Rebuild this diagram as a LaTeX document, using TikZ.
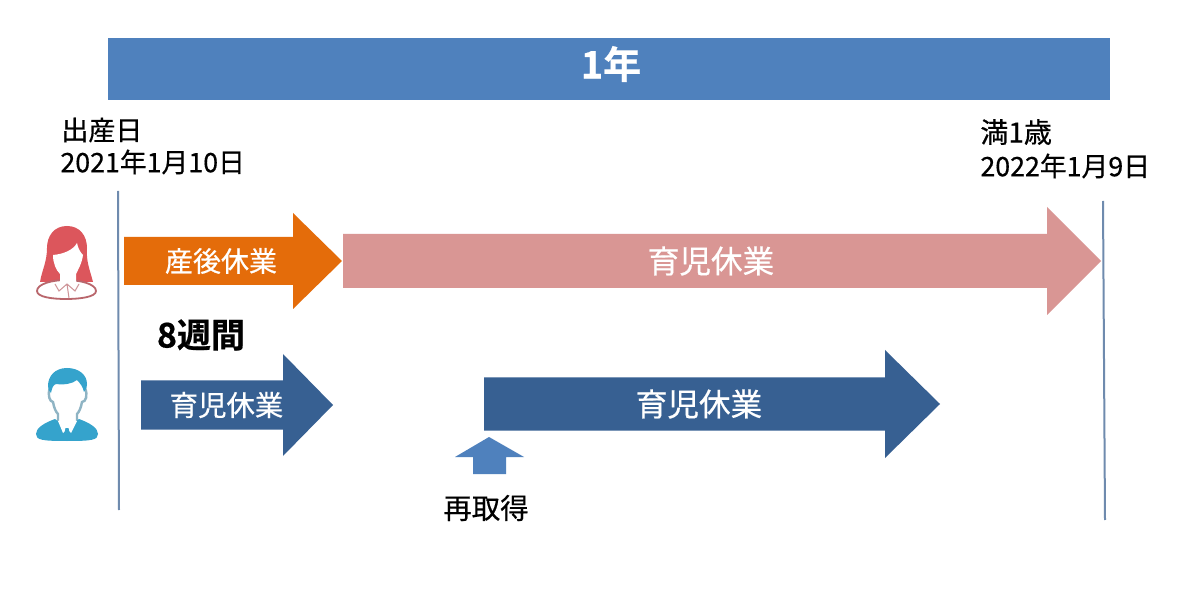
\documentclass[tikz,border=0pt]{standalone}
\usepackage{fontspec}
\setmainfont{Noto Sans CJK JP}[BoldFont={* Bold},FakeBold=0.5]
\definecolor{barblue}{HTML}{4F81BD}
\definecolor{orangeleave}{HTML}{E46C0A}
\definecolor{pinkleave}{HTML}{D99694}
\definecolor{navyleave}{HTML}{376092}
\definecolor{timeline}{HTML}{6F8BAE}
\definecolor{hairred}{HTML}{DC565C}
\definecolor{collarred}{HTML}{B9666C}
\definecolor{suitblue}{HTML}{35A3CC}
\definecolor{faceline}{HTML}{8FB4C4}
% x1 = left end, x2 = head base, x3 = tip, y = axis, b = body half height, h = head half height
\newcommand{\blockarrow}[7]{%
  \fill[#7] (#1,#4-#5) -- (#2,#4-#5) -- (#2,#4-#6) -- (#3,#4) -- (#2,#4+#6) -- (#2,#4+#5) -- (#1,#4+#5) -- cycle;}
\tikzset{
  x=0.5pt, y=-0.5pt,
  lbl/.style={inner sep=0pt, text=#1, anchor=center},
  lbl/.default=black,
  rule/.style={timeline, line width=1pt},
}
\begin{document}
\begin{tikzpicture}
\useasboundingbox (0,0) rectangle (1200,604);
\fill[white] (0,0) rectangle (1200,604);

% one-year bar
\fill[barblue] (108,38) rectangle (1110,100);
\node[lbl=white, font=\bfseries\fontsize{19}{22}\selectfont] (year) at (611,64) {1年};

% date labels
\node[lbl, anchor=west, font=\fontsize{13.5}{16}\selectfont] (birth) at (61,130) {出産日};
\node[lbl, anchor=west, font=\fontsize{13.4}{16}\selectfont] (birthdate) at (60,162) {2021年1月10日};
\node[lbl, anchor=west, font=\fontsize{14}{16}\selectfont] (first) at (980,132) {満1歳};
\node[lbl, anchor=west, font=\fontsize{13.4}{16}\selectfont] (firstdate) at (980,166) {2022年1月9日};

% timeline rules
\coordinate (ltop) at (118,191);
\coordinate (lbot) at (119,510);
\coordinate (rtop) at (1103,201);
\coordinate (rbot) at (1105,520);
\draw[rule] (ltop) -- (lbot);
\draw[rule] (rtop) -- (rbot);

% leave arrows
\blockarrow{124}{293}{342}{261}{24}{48}{orangeleave}
\blockarrow{343}{1047}{1101}{261}{27}{54}{pinkleave}
\blockarrow{141}{283}{333}{405}{24.5}{51}{navyleave}
\blockarrow{484}{885}{940}{404}{26.5}{54}{navyleave}
\node[lbl=white, font=\fontsize{14}{16}\selectfont] (postnatal) at (221,261) {産後休業};
\node[lbl=white, font=\fontsize{15.8}{18}\selectfont] (motherleave) at (711,261) {育児休業};
\node[lbl=white, font=\fontsize{14.2}{16}\selectfont] (fatherfirst) at (226.5,405) {育児休業};
\node[lbl=white, font=\fontsize{15.8}{18}\selectfont] (fathersecond) at (699,404) {育児休業};

% eight-week label
\node[lbl, font=\bfseries\fontsize{17}{20}\selectfont] (weeks) at (201,335) {8週間};

% re-take marker
\fill[barblue] (489,437) -- (524,457) -- (506,457) -- (506,474) -- (473,474) -- (473,457) -- (455,457) -- cycle;
\node[lbl, font=\fontsize{14.2}{16}\selectfont] (retake) at (486,508) {再取得};

% female icon: hair, face and neck, blouse
\fill[hairred] (67,226) .. controls (54,226) and (47,236) .. (47,248) .. controls (47,262) and (42,270) .. (40,282) -- (93,282) .. controls (90,270) and (86,262) .. (87,248) .. controls (87,236) and (80,226) .. (67,226) -- cycle;
\draw[collarred, line width=0.9pt, fill=white] (66,280) .. controls (80,280) and (96,284) .. (96,291) .. controls (96,297) and (80,299) .. (66,299) .. controls (52,299) and (37,297) .. (37,291) .. controls (37,284) and (52,280) .. (66,280) -- cycle;
\fill[white] (53,255) .. controls (64,254) and (73,250) .. (77,243) .. controls (78,248) and (80,252) .. (83,255) .. controls (82,263) and (78,270) .. (76,274) -- (76,284) -- (69,292) -- (60,284) -- (60,274) .. controls (56,270) and (53,263) .. (53,255) -- cycle;
\draw[collarred!70, line width=0.5pt] (55,284) -- (59,291) -- (67,284) -- (75,291) -- (79,284) (67,284) -- (69,298);

% male icon: face outline, hair, suit, shirt and tie
\draw[faceline, line width=1.2pt] (50,388) .. controls (47,395) and (50,402) .. (53,402) .. controls (54,408) and (56,412) .. (58,414) -- (58,421);
\draw[faceline, line width=1.2pt] (85,388) .. controls (88,395) and (86,402) .. (82,402) .. controls (81,408) and (79,412) .. (77,414) -- (77,421);
\fill[suitblue] (67,368) .. controls (55,368) and (48,376) .. (48,386) .. controls (48,389) and (49,391) .. (51,393) .. controls (52,388) and (53,385) .. (56,384) .. controls (64,385) and (72,384) .. (77,380) .. controls (80,383) and (83,387) .. (84,392) .. controls (87,388) and (87,386) .. (87,384) .. controls (87,375) and (79,368) .. (67,368) -- cycle;
\fill[suitblue] (55,419) .. controls (44,423) and (36,428) .. (36,434) .. controls (36,440) and (42,441) .. (67,441) .. controls (92,441) and (98,440) .. (98,434) .. controls (98,428) and (90,423) .. (79,419) -- (67,428) -- cycle;
\fill[white] (58,421) -- (61,420) -- (67,427) -- (73,420) -- (77,421) -- (71,433) -- (67,429) -- (63,433) -- cycle;
\fill[suitblue] (65.5,428) -- (68.5,428) -- (69.5,433) -- (67,438) -- (64.5,433) -- cycle;
\end{tikzpicture}
\end{document}
